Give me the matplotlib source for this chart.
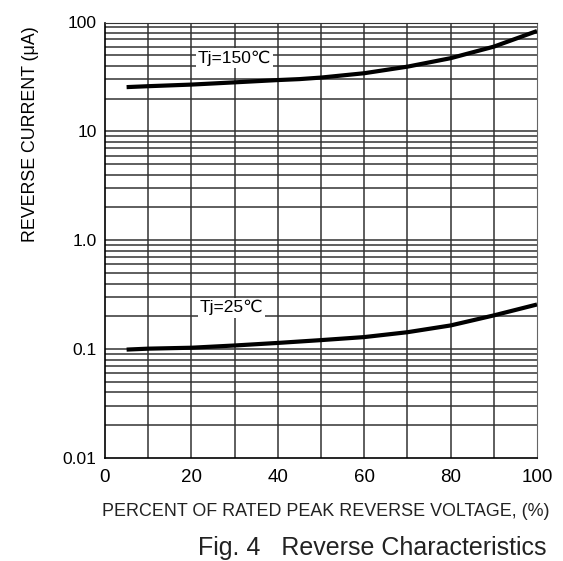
import matplotlib
matplotlib.use("Agg")
import matplotlib.pyplot as plt
import numpy as np

plt.rcParams['font.family'] = ['Liberation Sans', 'DejaVu Sans']

# Data
x_150 = [5, 10, 20, 30, 40, 45, 50, 60, 70, 80, 90, 100]
y_150 = [25.5, 26.0, 26.9, 28.2, 29.6, 30.2, 31.2, 34.2, 39.3, 47.0, 60.0, 83.5]
x_25 = [5, 10, 20, 30, 40, 50, 60, 70, 80, 90, 100]
y_25 = [0.099, 0.101, 0.103, 0.108, 0.114, 0.121, 0.129, 0.143, 0.165, 0.204, 0.257]

x_ticks = [0, 20, 40, 60, 80, 100]
y_ticks = [0.01, 0.1, 1, 10, 100]
y_ticklabels = ['0.01', '0.1', '1.0', '10', '100']

label_150 = 'Tj=150℃'
label_25 = 'Tj=25℃'
xlabel = 'PERCENT OF RATED PEAK REVERSE VOLTAGE, (%)'
ylabel = 'REVERSE CURRENT (μA)'
caption = 'Fig. 4   Reverse Characteristics'

fig = plt.figure(figsize=(5.63, 5.61), dpi=100)
ax = fig.add_axes([105/563, 1 - 458/561, 432/563, 435.5/561])
ax.set_yscale('log')
ax.set_xlim(0, 100)
ax.set_ylim(0.01, 100)

# grid
for xv in range(10, 100, 10):
    ax.axvline(xv, color='#333333', lw=1.1, zorder=1)
for dec in [0.01, 0.1, 1, 10]:
    for m in range(1, 10):
        v = dec * m
        if v <= 0.01:
            continue
        ax.axhline(v, color='#333333', lw=1.1, zorder=1)
ax.axhline(100, color='#333333', lw=1.1, zorder=1)

ax.plot(x_150, y_150, color='black', lw=3, zorder=3, solid_capstyle='butt')
ax.plot(x_25, y_25, color='black', lw=3, zorder=3, solid_capstyle='butt')

ax.text(30, 47, label_150, fontsize=12.5, ha='center', va='center', zorder=4,
        bbox=dict(facecolor='white', edgecolor='none', pad=1.5))
ax.text(29.3, 0.24, label_25, fontsize=12.5, ha='center', va='center', zorder=4,
        bbox=dict(facecolor='white', edgecolor='none', pad=1.5))

ax.set_xticks(x_ticks)
ax.set_xticklabels([str(v) for v in x_ticks], fontsize=13.5)
ax.set_yticks(y_ticks)
ax.set_yticklabels(y_ticklabels, fontsize=12.5)
ax.yaxis.set_minor_locator(matplotlib.ticker.NullLocator())
ax.tick_params(axis='y', length=0, pad=6)
ax.tick_params(axis='x', length=0, pad=8)
for s in ['left', 'bottom']:
    ax.spines[s].set_color('black')
    ax.spines[s].set_linewidth(1.2)
ax.spines['right'].set_color('#666666')
ax.spines['top'].set_color('#333333')

fig.text(31/563, 1 - 134/561, ylabel, rotation=90, fontsize=12.8,
         ha='center', va='center')
fig.text(326/563, 1 - 511/561, xlabel, fontsize=12.9, ha='center', va='center',
         color='#222222')
fig.text(372/563, 1 - 548/561, caption, fontsize=18, ha='center', va='center',
         color='#222222')

fig.savefig('out.png', dpi=100)
